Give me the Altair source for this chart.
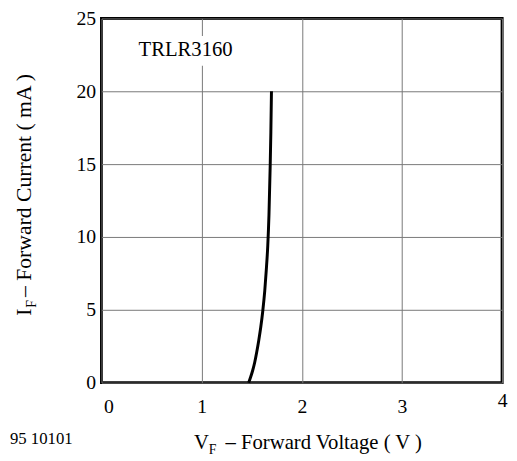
import altair as alt
import pandas as pd

# Forward voltage (V) vs forward current (mA)
vf = [1.47, 1.49, 1.51, 1.53, 1.55, 1.57, 1.59, 1.61, 1.63, 1.645, 1.66, 1.672, 1.684, 1.691, 1.697]
i_f = [0.0, 0.4, 0.85, 1.4, 2.1, 2.9, 3.8, 4.9, 6.3, 7.7, 9.4, 11.5, 14.8, 17.2, 20.0]

x_ticks = [0, 1, 2, 3, 4]
y_ticks = [0, 5, 10, 15, 20, 25]

part_label = ["TRLR3160"]
part_x = [0.37]
part_y = [22.8]
box_x = [0.30, 1.40]
box_y = [21.75, 23.8]

FONT = "Liberation Serif"

df = pd.DataFrame({"voltage": vf, "current": i_f})

x_axis = alt.Axis(
    values=x_ticks, title=None, grid=True, domain=False, ticks=False, format="d",
    labelFlush=False, labelAlign="center", labelBaseline="top",
    labelPadding={"condition": {"test": "datum.value == 4", "value": 8}, "value": 14},
    labelOffset={"condition": {"test": "datum.value == 0", "value": 7}, "value": 0},
)
y_axis = alt.Axis(
    values=y_ticks, title=None, grid=True, domain=False, ticks=False, format="d",
    labelPadding=6, labelFlush=False,
)
xs = alt.Scale(domain=[0, 4], nice=False, zero=False)
ys = alt.Scale(domain=[0, 25], nice=False, zero=False)

line = alt.Chart(df).mark_line(
    color="black", strokeWidth=3, interpolate="monotone", strokeCap="butt"
).encode(
    x=alt.X("voltage:Q", scale=xs, axis=x_axis),
    y=alt.Y("current:Q", scale=ys, axis=y_axis),
)

box = alt.Chart(pd.DataFrame({"x1": [box_x[0]], "x2": [box_x[1]],
                              "y1": [box_y[0]], "y2": [box_y[1]]})).mark_rect(
    color="white"
).encode(
    x=alt.X("x1:Q", scale=xs, title=None), x2="x2:Q",
    y=alt.Y("y1:Q", scale=ys, title=None), y2="y2:Q",
)

part = alt.Chart(pd.DataFrame({"x": part_x, "y": part_y, "t": part_label})).mark_text(
    align="left", baseline="middle", font=FONT, fontSize=21, color="black"
).encode(
    x=alt.X("x:Q", scale=xs, title=None),
    y=alt.Y("y:Q", scale=ys, title=None),
    text="t:N",
)


def txt(s, x, y, size=21, angle=0):
    kw = dict(align="left", baseline="alphabetic", font=FONT, fontSize=size, color="black")
    if angle:
        kw["angle"] = angle
    return alt.Chart(pd.DataFrame({"t": [s]})).mark_text(**kw).encode(
        x=alt.value(x), y=alt.value(y), text="t:N"
    )


# x-axis title with subscript
xt1 = txt("V", 94, 437)
xt2 = txt("F", 109, 442, size=14)
xt3 = txt("– Forward Voltage ( V )", 126, 437)
# y-axis title with subscript (rotated)
yt1 = txt("I", -72, 302, size=22, angle=270)
yt2 = txt("F", -67, 294, size=14, angle=270)
yt3 = txt("– Forward Current ( mA )", -72, 283, size=22, angle=270)
# figure number
fig = txt("95 10101", -93, 432, size=17)

chart = alt.layer(box, line, part, xt1, xt2, xt3, yt1, yt2, yt3, fig).properties(
    width=407, height=370,
    autosize=alt.AutoSizeParams(type="none"),
    padding={"left": 95, "top": 7, "right": 7, "bottom": 76},
).configure_view(
    stroke="black", strokeWidth=3,
).configure_axis(
    gridColor="#777777", gridWidth=1, gridOpacity=1,
    labelFont=FONT, labelFontSize=20, labelColor="black",
)

chart.save("out.html", embed_options={"renderer": "svg", "actions": False})
